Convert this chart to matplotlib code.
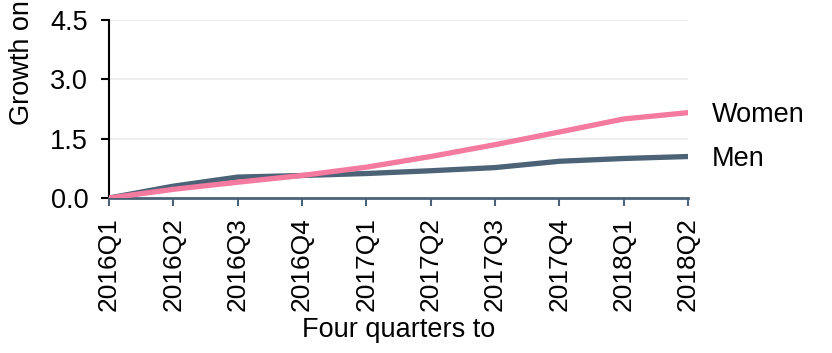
import matplotlib.pyplot as plt

plt.rcParams["font.family"] = ["Liberation Sans", "DejaVu Sans"]

quarters = ["2016Q1", "2016Q2", "2016Q3", "2016Q4", "2017Q1",
            "2017Q2", "2017Q3", "2017Q4", "2018Q1", "2018Q2"]
women = [0.0, 0.22, 0.40, 0.57, 0.78, 1.05, 1.35, 1.67, 2.00, 2.16]
men = [0.0, 0.30, 0.53, 0.57, 0.62, 0.69, 0.77, 0.93, 1.00, 1.05]
yticks = [0.0, 1.5, 3.0, 4.5]

PINK = "#F47AA0"
SLATE = "#4B6277"
FS = 19

fig = plt.figure(figsize=(8.32, 3.53), dpi=100)
ax = fig.add_axes([0.131, 0.439, 0.696, 0.504])

x = range(len(quarters))
ax.plot(x, men, color=SLATE, lw=3.8, solid_capstyle="round", zorder=3)
ax.plot(x, women, color=PINK, lw=3.8, solid_capstyle="round", zorder=4)

ax.set_xlim(0, len(quarters) - 1)
ax.set_ylim(0, 4.5)
ax.set_yticks(yticks)
ax.set_yticklabels([f"{v:.1f}" for v in yticks], fontsize=FS + 0.5)
ax.set_xticks(list(x))
ax.set_xticklabels(quarters, rotation=90, fontsize=FS)
ax.grid(axis="y", color="#EBEBEB", lw=1.2)
ax.set_axisbelow(True)

for side in ["top", "right"]:
    ax.spines[side].set_visible(False)
ax.spines["left"].set_color("black")
ax.spines["left"].set_linewidth(1.5)
ax.spines["bottom"].set_color(SLATE)
ax.spines["bottom"].set_linewidth(2)
ax.tick_params(axis="y", length=6, width=1.5, color="black", pad=9)
ax.tick_params(axis="x", length=6, width=1.5, color=SLATE, pad=8)

ax.set_xlabel("Four quarters to", fontsize=FS + 0.5, labelpad=4)

# series labels at the line ends
ax.text(len(quarters) - 1 + 0.37, women[-1] - 0.05, "Women", fontsize=FS + 0.5,
        va="center", ha="left", clip_on=False)
ax.text(len(quarters) - 1 + 0.37, men[-1] - 0.07, "Men", fontsize=FS + 0.5,
        va="center", ha="left", clip_on=False)

fig.text(0.027, 1 - 125 / 353, "Growth on a year earlier (%)", rotation=90,
         fontsize=FS + 0.5, va="bottom", ha="center")

fig.savefig("out.png", dpi=100)
